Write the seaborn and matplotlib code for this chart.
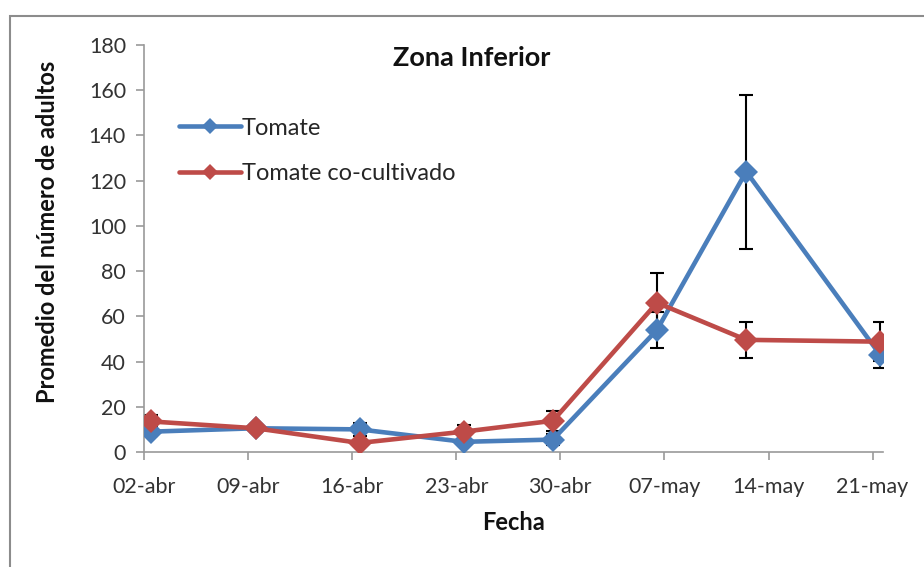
import numpy as np
import pandas as pd
import matplotlib
matplotlib.use("Agg")
import matplotlib.pyplot as plt
from matplotlib.patches import Rectangle
import seaborn as sns

# ---- data ----
dates = ["2011-04-02", "2011-04-09", "2011-04-16", "2011-04-23",
         "2011-04-29", "2011-05-06", "2011-05-12", "2011-05-21"]
tomate = [9, 10.5, 10, 4.5, 5.5, 54, 124, 43]
tomate_err = [2, 1.5, 3, 1.5, 2.5, 8, 34, 6]
cocult = [13.5, 10.5, 4, 9, 13.8, 66, 49.6, 48.8]
cocult_err = [3, 1.5, 1, 3, 4.5, 13, 8, 8.7]
series_names = ["Tomate", "Tomate co-cultivado"]
tick_dates = ["2011-04-02", "2011-04-09", "2011-04-16", "2011-04-23",
              "2011-04-30", "2011-05-07", "2011-05-14", "2011-05-21"]
tick_labels = ["02-abr", "09-abr", "16-abr", "23-abr", "30-abr",
               "07-may", "14-may", "21-may"]
y_ticks = [0, 20, 40, 60, 80, 100, 120, 140, 160, 180]

sns.set_style("white")
plt.rcParams["font.family"] = ["Lato", "DejaVu Sans"]

colors = ["#4a7ebb", "#be4b48"]
x = pd.to_datetime(dates) + pd.Timedelta(hours=12)
df = pd.DataFrame({
    "Fecha": list(x) * 2,
    "valor": tomate + cocult,
    "serie": [series_names[0]] * len(x) + [series_names[1]] * len(x),
})

fig = plt.figure(figsize=(9.24, 5.67), dpi=100)
ax = fig.add_axes([144 / 924, 1 - 452 / 567, (883 - 144) / 924, (452 - 45) / 567])

# error bars first (behind lines)
for vals, errs in [(tomate, tomate_err), (cocult, cocult_err)]:
    ax.errorbar(x, vals, yerr=errs, fmt="none", ecolor="black",
                elinewidth=1.5, capsize=5, capthick=1.5, zorder=1)

sns.lineplot(data=df, x="Fecha", y="valor", hue="serie", palette=colors,
             marker="D", markersize=12.5, markeredgewidth=0, linewidth=3.3,
             ax=ax, zorder=3)

ax.set_ylim(0, 180)
ax.set_yticks(y_ticks)
ax.set_xlim(pd.Timestamp("2011-04-02"), pd.Timestamp("2011-04-02") + pd.Timedelta(days=49.7))
ax.set_xticks(pd.to_datetime(tick_dates))
ax.set_xticklabels(tick_labels)

for side in ["top", "right"]:
    ax.spines[side].set_visible(False)
for side in ["left", "bottom"]:
    ax.spines[side].set_color("#9a9a9a")
    ax.spines[side].set_linewidth(1.2)
ax.tick_params(axis="both", which="major", direction="out", length=6,
               width=1.2, color="#9a9a9a", labelsize=15.5, labelcolor="#333333",
               bottom=True, left=True)
ax.tick_params(axis="x", pad=12)
ax.tick_params(axis="y", pad=7)

ax.set_xlabel("Fecha", fontsize=17, fontweight="bold", color="#111111")
ax.xaxis.set_label_coords((514 - 144) / (883 - 144), -(523 - 452) / (452 - 45))
ax.set_ylabel("Promedio del número de adultos", fontsize=17, fontweight="bold",
              color="#111111")
ax.yaxis.set_label_coords(-(144 - 48) / (883 - 144), (452 - 232) / (452 - 45))
ax.yaxis.label.set_va("center")
ax.xaxis.label.set_va("center")
ax.text((472 - 144) / (883 - 144), (452 - 58) / (452 - 45), "Zona Inferior",
        transform=ax.transAxes, ha="center", va="center",
        fontsize=19.5, fontweight="bold", color="#111111")

leg = ax.legend(loc="upper left", bbox_to_anchor=(0.035, 0.845), frameon=False,
                fontsize=17, labelspacing=1.05, handlelength=2.6, handletextpad=0.05,
                borderaxespad=0)
for h in leg.legend_handles:
    h.set_markersize(8)
    h.set_linewidth(3.3)

# outer chart border
fig.patches.append(Rectangle((10 / 924, -0.1), 1.2, 1 - 16 / 567 + 0.1,
                             transform=fig.transFigure, fill=False,
                             edgecolor="#8c8c8c", linewidth=1.5))

fig.savefig("out.png", dpi=100)
